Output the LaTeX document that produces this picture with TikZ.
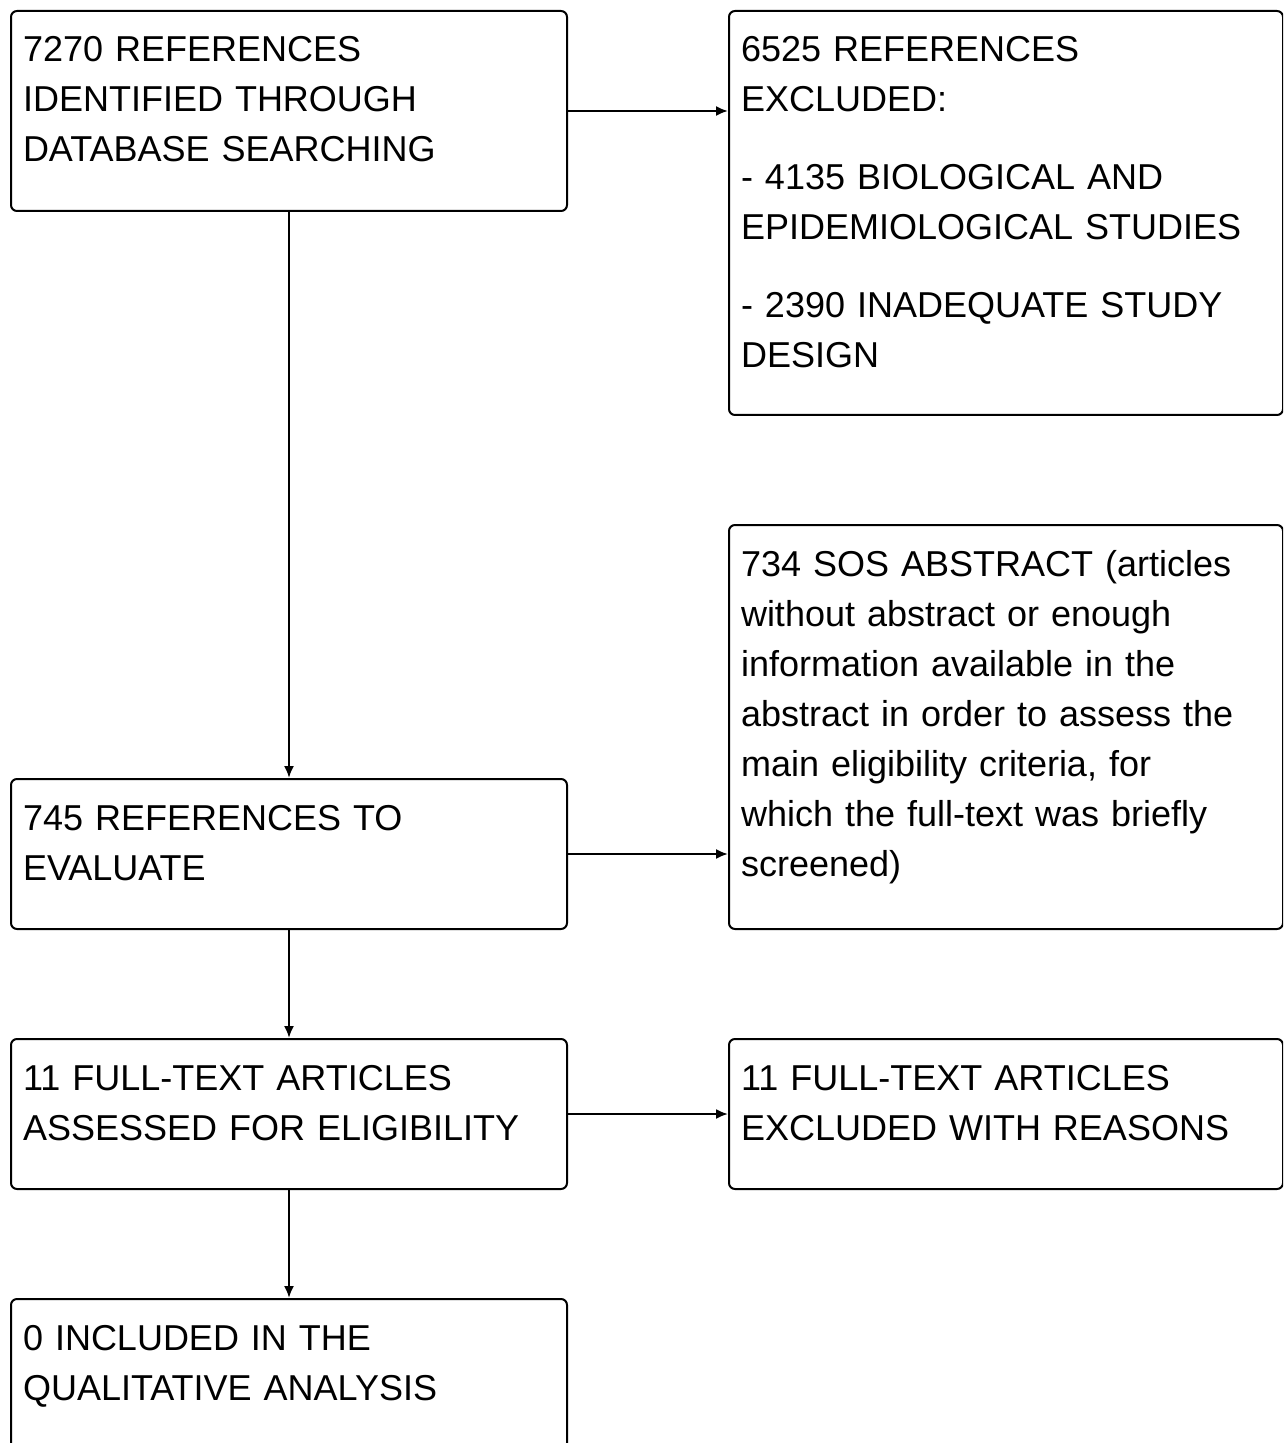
\documentclass[tikz,border=0pt]{standalone}
\usepackage{fontspec}
\setmainfont{Liberation Sans}
\usetikzlibrary{arrows.meta}

\tikzset{
    box/.style={draw, rounded corners=3pt, line width=1pt, anchor=north west,
        align=left, text width=266pt, inner xsep=6pt, inner ysep=0pt,
        text height=25.5pt, font=\fontsize{18pt}{25pt}\selectfont},
    arr/.style={line width=1pt, -{Latex[length=6pt,width=5pt]}}
}

\begin{document}
\begin{tikzpicture}[x=0.5pt, y=-0.5pt]
    % page, cut at the bottom like the source
    \clip (0,0) rectangle (1283,1443);

    % Left column
    \node[box, text depth=74.5pt] (refs) at (10,10)
        {7270 REFERENCES\\IDENTIFIED THROUGH\\DATABASE SEARCHING};
    \node[box, text depth=49.5pt] (eval) at (10,778)
        {745 REFERENCES TO\\EVALUATE};
    \node[box, text depth=49.5pt] (full) at (10,1038)
        {11 FULL-TEXT ARTICLES\\ASSESSED FOR ELIGIBILITY};
    \node[box, text depth=49.5pt] (incl) at (10,1298)
        {0 INCLUDED IN THE\\QUALITATIVE ANALYSIS};

    % Right column
    \node[box, text width=265pt, text depth=176.5pt] (excl) at (728,10)
        {6525 REFERENCES\\EXCLUDED:\\[14pt]- 4135 BIOLOGICAL AND\\EPIDEMIOLOGICAL STUDIES\\[14pt]- 2390 INADEQUATE STUDY\\DESIGN};
    \node[box, text width=265pt, text depth=176.5pt] (sos) at (728,524)
        {734 SOS ABSTRACT (articles\\without abstract or enough\\information available in the\\abstract in order to assess the\\main eligibility criteria, for\\which the full-text was briefly\\screened)};
    \node[box, text width=265pt, text depth=49.5pt] (fexcl) at (728,1038)
        {11 FULL-TEXT ARTICLES\\EXCLUDED WITH REASONS};

    % Arrows
    \draw[arr] (refs) -- (eval);
    \draw[arr] (eval) -- (full);
    \draw[arr] (full) -- (incl);
    \draw[arr] (refs.east) -- (refs.east -| excl.west);
    \draw[arr] (eval.east) -- (eval.east -| sos.west);
    \draw[arr] (full.east) -- (full.east -| fexcl.west);
\end{tikzpicture}
\end{document}
